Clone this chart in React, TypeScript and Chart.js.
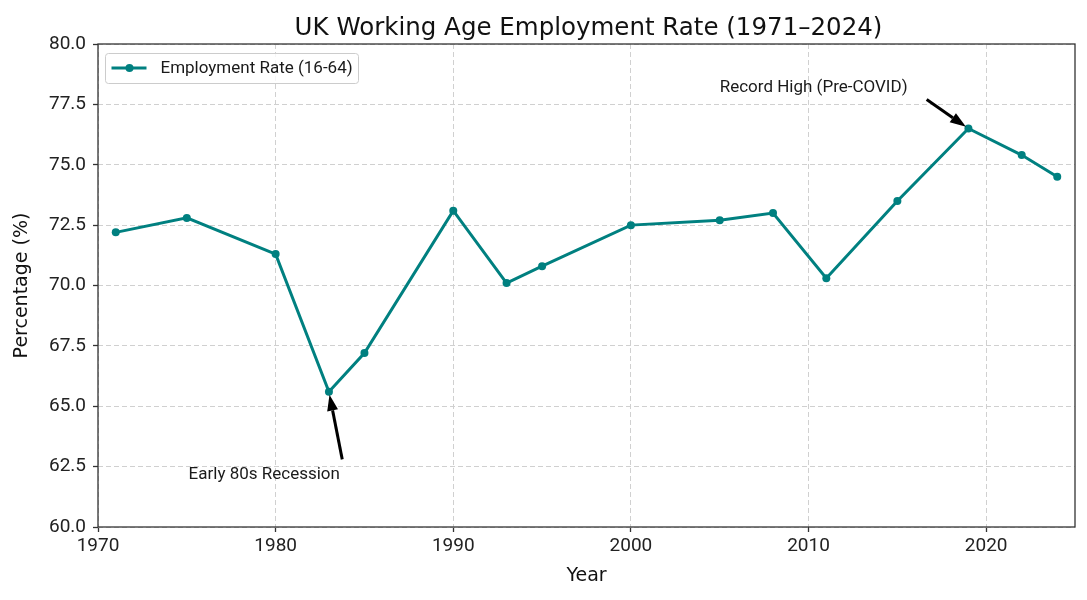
import { useEffect, useRef } from 'react';
import Chart from 'chart.js/auto';

// Datos de la serie
const years = [1971, 1975, 1980, 1983, 1985, 1990, 1993, 1995, 2000, 2005, 2008, 2011, 2015, 2019, 2022, 2024];
const rates = [72.2, 72.8, 71.3, 65.6, 67.2, 73.1, 70.1, 70.8, 72.5, 72.7, 73.0, 70.3, 73.5, 76.5, 75.4, 74.5];
const seriesLabel = 'Employment Rate (16-64)';
const chartTitle = 'UK Working Age Employment Rate (1971–2024)';
const xTitle = 'Year';
const yTitle = 'Percentage (%)';

// Anotaciones (en coordenadas de datos)
const noteLabels = ['Early 80s Recession', 'Record High (Pre-COVID)'];
const noteYears = [1983, 2019];
const noteValues = [65.6, 76.5];
const noteTextYears = [1975.1, 2005];
const noteTextValues = [62, 78];
const noteTailYears = [1983.75, 2016.65];
const noteTailValues = [62.8, 77.7];

const TEAL = '#008080';
const SANS = 'Roboto';
const DEJAVU = '"DejaVu Sans"';

const decor = {
  id: 'decor',
  afterDraw(chart: any) {
    const { ctx, chartArea: a, scales } = chart;
    const x = scales.x;
    const y = scales.y;
    ctx.save();

    // marco completo
    ctx.strokeStyle = '#333';
    ctx.lineWidth = 1.3;
    ctx.setLineDash([]);
    ctx.strokeRect(a.left, a.top, a.right - a.left, a.bottom - a.top);

    // título
    ctx.fillStyle = '#111';
    ctx.font = `24.5px ${DEJAVU}`;
    ctx.textAlign = 'center';
    ctx.textBaseline = 'alphabetic';
    ctx.fillText(chartTitle, (a.left + a.right) / 2 + 2, a.top - 9);

    // anotaciones con flechas
    ctx.font = `17px ${SANS}`;
    ctx.textAlign = 'left';
    noteLabels.forEach((label, i) => {
      ctx.fillStyle = '#1a1a1a';
      ctx.fillText(label, x.getPixelForValue(noteTextYears[i]), y.getPixelForValue(noteTextValues[i]));
      const tx = x.getPixelForValue(noteTailYears[i]);
      const ty = y.getPixelForValue(noteTailValues[i]);
      const px = x.getPixelForValue(noteYears[i]);
      const py = y.getPixelForValue(noteValues[i]);
      const len = Math.hypot(px - tx, py - ty);
      const ux = (px - tx) / len;
      const uy = (py - ty) / len;
      const hx = px - ux * 3;
      const hy = py - uy * 3;
      const headLen = 16;
      const headW = 5.5;
      const bx = hx - ux * headLen;
      const by = hy - uy * headLen;
      ctx.strokeStyle = '#000';
      ctx.lineWidth = 3;
      ctx.beginPath();
      ctx.moveTo(tx, ty);
      ctx.lineTo(bx, by);
      ctx.stroke();
      ctx.fillStyle = '#000';
      ctx.beginPath();
      ctx.moveTo(hx, hy);
      ctx.lineTo(bx - uy * headW, by + ux * headW);
      ctx.lineTo(bx + uy * headW, by - ux * headW);
      ctx.closePath();
      ctx.fill();
    });

    // leyenda
    const lx = a.left + 7.5;
    const ly = a.top + 9.5;
    ctx.fillStyle = 'rgba(255,255,255,0.8)';
    ctx.strokeStyle = '#cccccc';
    ctx.lineWidth = 1;
    ctx.beginPath();
    ctx.roundRect(lx, ly, 253, 30, 3);
    ctx.fill();
    ctx.stroke();
    ctx.strokeStyle = TEAL;
    ctx.lineWidth = 3;
    ctx.beginPath();
    ctx.moveTo(lx + 6, ly + 14.5);
    ctx.lineTo(lx + 41, ly + 14.5);
    ctx.stroke();
    ctx.fillStyle = TEAL;
    ctx.beginPath();
    ctx.arc(lx + 24, ly + 14.5, 4, 0, Math.PI * 2);
    ctx.fill();
    ctx.fillStyle = '#1a1a1a';
    ctx.font = `17px ${SANS}`;
    ctx.textBaseline = 'middle';
    ctx.fillText(seriesLabel, lx + 55, ly + 15);

    ctx.restore();
  },
};

const EmploymentChart = () => {
  const chartRef = useRef<HTMLCanvasElement>(null);
  const chartInstanceRef = useRef<Chart | null>(null);

  useEffect(() => {
    if (!chartRef.current) return;
    const ctx = chartRef.current.getContext('2d');
    if (!ctx) return;
    if (chartInstanceRef.current) chartInstanceRef.current.destroy();

    chartInstanceRef.current = new Chart(ctx, {
      type: 'line',
      data: {
        datasets: [
          {
            label: seriesLabel,
            data: years.map((yr, i) => ({ x: yr, y: rates[i] })),
            borderColor: TEAL,
            backgroundColor: TEAL,
            borderWidth: 3,
            pointRadius: 4,
            pointBorderWidth: 0,
            pointBackgroundColor: TEAL,
            tension: 0,
            fill: false,
          },
        ],
      },
      options: {
        animation: false,
        responsive: true,
        maintainAspectRatio: false,
        layout: { padding: { top: 44, right: 12, left: 0, bottom: 0 } },
        plugins: {
          legend: { display: false },
          title: { display: false },
          tooltip: { enabled: false },
        },
        scales: {
          x: {
            type: 'linear',
            min: 1970,
            max: 2025,
            afterFit: (s: any) => {
              s.height = 73;
            },
            ticks: {
              stepSize: 10,
              includeBounds: false,
              maxRotation: 0,
              padding: 3,
              color: '#222',
              font: { family: SANS, size: 19 },
              callback: (v: any) => String(v),
            },
            grid: {
              color: '#d0d0d0',
              lineWidth: 1,
              drawTicks: true,
              tickLength: 5,
              tickColor: '#333',
              tickWidth: 1.3,
              tickBorderDash: [],
            },
            border: { display: false, dash: [5, 3] },
            title: {
              display: true,
              text: xTitle,
              color: '#111',
              font: { family: 'DejaVu Sans', size: 19 },
              padding: { top: 0, bottom: 12.6 },
            },
          },
          y: {
            min: 60,
            max: 80,
            afterFit: (s: any) => {
              s.width = 98;
            },
            ticks: {
              stepSize: 2.5,
              padding: 7,
              color: '#222',
              font: { family: SANS, size: 19 },
              callback: (v: any) => Number(v).toFixed(1),
            },
            grid: {
              color: '#d0d0d0',
              lineWidth: 1,
              drawTicks: true,
              tickLength: 5,
              tickColor: '#333',
              tickWidth: 1.3,
              tickBorderDash: [],
            },
            border: { display: false, dash: [5, 3] },
            title: {
              display: true,
              text: yTitle,
              color: '#111',
              font: { family: 'DejaVu Sans', size: 19 },
              padding: { top: 11, bottom: 0 },
            },
          },
        },
      },
      plugins: [decor],
    });

    return () => {
      if (chartInstanceRef.current) {
        chartInstanceRef.current.destroy();
        chartInstanceRef.current = null;
      }
    };
  }, []);

  return (
    <div style={{ position: 'fixed', left: 0, top: 0, width: 1087, height: 600, background: '#fff' }}>
      <canvas ref={chartRef} />
    </div>
  );
};

export default function App() {
  return <EmploymentChart />;
}
